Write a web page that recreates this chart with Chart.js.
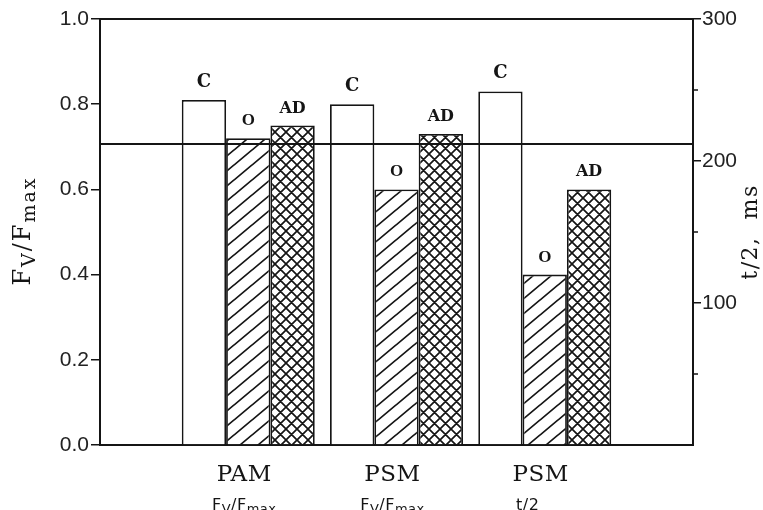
<!DOCTYPE html>
<html>
<head>
<meta charset="utf-8">
<script src="https://cdn.jsdelivr.net/npm/chart.js@4/dist/chart.umd.min.js"></script>
<style>
  html, body { margin: 0; padding: 0; background: #fff; }
  #wrap { width: 763px; height: 510px; }
</style>
</head>
<body>
<div id="wrap"><canvas id="c" width="763" height="510"></canvas></div>
<script>
// Categories (blank slots at both ends keep the groups off the frame)
const categories = ['', 'PAM', 'PSM', 'PSM', ''];
// Second line under each group: [text, isSubscript] pieces
const categorySubLabels = [
  null,
  [['F', 0], ['V', 1], ['/F', 0], ['max', 1]],
  [['F', 0], ['V', 1], ['/F', 0], ['max', 1]],
  [['t/2', 0]],
  null
];

// Series values (Fv/Fmax scale)
const controlC = [null, 0.81, 0.80, 0.83, null];
const treatedO = [null, 0.72, 0.60, 0.40, null];
const treatedAD = [null, 0.75, 0.73, 0.60, null];
const seriesNames = ['C', 'O', 'AD'];

// Reference level on the t/2 axis (ms)
const refLevelMs = [212, null, null, null, 212];

// Tick values
const leftTicks = [0, 0.2, 0.4, 0.6, 0.8, 1.0];
const rightMajorTicks = [100, 200, 300];
const rightMinorTicks = [50, 150, 250];

const INK = '#151515';

function makePattern(w, h, draw) {
  const c = document.createElement('canvas');
  c.width = w; c.height = h;
  const g = c.getContext('2d');
  g.fillStyle = '#fff';
  g.fillRect(0, 0, w, h);
  g.strokeStyle = INK;
  g.lineWidth = 1.7;
  draw(g, w, h);
  return g.createPattern(c, 'repeat');
}

// single diagonal hatch
const hatchDiag = makePattern(18, 15, (g, w, h) => {
  g.beginPath();
  g.moveTo(-w, 2 * h); g.lineTo(2 * w, -h);
  g.moveTo(-2 * w, 2 * h); g.lineTo(w, -h);
  g.moveTo(0, 2 * h); g.lineTo(3 * w, -h);
  g.stroke();
});

// cross hatch
const hatchCross = makePattern(11, 11, (g, w, h) => {
  g.beginPath();
  for (let k = -1; k <= 1; k++) {
    g.moveTo(k * w, h); g.lineTo(k * w + w, 0);
    g.moveTo(k * w, 0); g.lineTo(k * w + w, h);
  }
  g.stroke();
});

function drawRich(ctx, pieces, x, y, mainFont, subFont, subDy, spacing) {
  ctx.letterSpacing = spacing + 'px';
  let total = 0;
  pieces.forEach(p => {
    ctx.font = p[1] ? subFont : mainFont;
    total += ctx.measureText(p[0]).width;
  });
  let cx = x - total / 2;
  ctx.textAlign = 'left';
  ctx.textBaseline = 'alphabetic';
  pieces.forEach(p => {
    ctx.font = p[1] ? subFont : mainFont;
    ctx.fillText(p[0], cx, y + (p[1] ? subDy : 0));
    cx += ctx.measureText(p[0]).width;
  });
  ctx.letterSpacing = '0px';
}

const decorations = {
  id: 'decorations',
  afterDraw(chart) {
    const ctx = chart.ctx;
    const area = chart.chartArea;
    const x = chart.scales.x;
    const y2 = chart.scales.y2;
    ctx.save();
    ctx.fillStyle = INK;
    ctx.strokeStyle = INK;

    // top edge of the frame
    ctx.lineWidth = 2;
    ctx.beginPath();
    ctx.moveTo(area.left - 1, area.top);
    ctx.lineTo(area.right + 1, area.top);
    ctx.stroke();

    // minor ticks on the t/2 axis
    ctx.lineWidth = 1.5;
    rightMinorTicks.forEach(v => {
      const py = y2.getPixelForValue(v);
      ctx.beginPath();
      ctx.moveTo(area.right, py);
      ctx.lineTo(area.right + 5, py);
      ctx.stroke();
    });

    // letters over the bars
    chart.data.datasets.forEach((ds, i) => {
      if (ds.type === 'line') return;
      const meta = chart.getDatasetMeta(i);
      meta.data.forEach((bar, j) => {
        if (ds.data[j] == null) return;
        ctx.font = ds.labelFont;
        ctx.textAlign = 'center';
        ctx.textBaseline = 'alphabetic';
        ctx.fillText(ds.label, bar.x, bar.y - 13);
      });
    });

    // group labels under the axis
    categories.forEach((name, i) => {
      if (!name) return;
      const px = x.getPixelForValue(i) - 4;
      ctx.font = '23px "DejaVu Serif"';
      ctx.letterSpacing = '0.5px';
      ctx.textAlign = 'center';
      ctx.textBaseline = 'alphabetic';
      ctx.fillText(name, px, 481);
      ctx.letterSpacing = '0px';
      const sub = categorySubLabels[i];
      if (sub) {
        const shift = sub.length === 1 ? -13 : 0;
        drawRich(ctx, sub, px + shift, 510, '16px "DejaVu Sans"', '13px "DejaVu Sans"', 3, 0.5);
      }
    });

    // left axis title
    ctx.save();
    ctx.translate(30, 231);
    ctx.rotate(-Math.PI / 2);
    drawRich(ctx, [['F', 0], ['V', 1], ['/F', 0], ['max', 1]], 0, 0,
      '24px "DejaVu Serif"', '19px "DejaVu Serif"', 5, 2);
    ctx.restore();

    // right axis title
    ctx.save();
    ctx.translate(757, 232);
    ctx.rotate(-Math.PI / 2);
    drawRich(ctx, [['t/2,  ms', 0]], 0, 0, '22px "DejaVu Serif"', '22px "DejaVu Serif"', 0, 1.5);
    ctx.restore();

    ctx.restore();
  }
};

const barCommon = {
  type: 'bar',
  borderColor: INK,
  borderWidth: 1.8,
  yAxisID: 'y',
  order: 1,
  categoryPercentage: 0.897,
  barPercentage: 1.0
};

new Chart(document.getElementById('c'), {
  type: 'bar',
  data: {
    labels: categories,
    datasets: [
      Object.assign({}, barCommon, { label: seriesNames[0], data: controlC, backgroundColor: '#ffffff', labelFont: 'bold 18px "DejaVu Serif"' }),
      Object.assign({}, barCommon, { label: seriesNames[1], data: treatedO, backgroundColor: hatchDiag, labelFont: 'bold 17px "Liberation Serif"' }),
      Object.assign({}, barCommon, { label: seriesNames[2], data: treatedAD, backgroundColor: hatchCross, labelFont: 'bold 16px "DejaVu Serif"' }),
      {
        type: 'line',
        label: 'ref',
        data: refLevelMs,
        yAxisID: 'y2',
        spanGaps: true,
        borderColor: INK,
        borderWidth: 2,
        pointRadius: 0,
        order: 0
      }
    ]
  },
  options: {
    responsive: false,
    devicePixelRatio: 1,
    animation: false,
    layout: { padding: { top: 19, left: 0, right: 0, bottom: 0 } },
    plugins: { legend: { display: false }, tooltip: { enabled: false } },
    scales: {
      x: {
        type: 'category',
        offset: false,
        grid: { display: false },
        border: { display: true, color: INK, width: 2 },
        ticks: { display: false },
        afterFit(s) { s.height = 65; }
      },
      y: {
        position: 'left',
        min: 0,
        max: 1,
        afterBuildTicks(s) { s.ticks = leftTicks.map(v => ({ value: v })); },
        ticks: {
          callback: v => Number(v).toFixed(1),
          font: { family: 'Liberation Sans', size: 21 },
          color: '#222',
          padding: 2
        },
        grid: { display: true, drawOnChartArea: false, drawTicks: true, tickLength: 9, color: INK, lineWidth: 1.5 },
        border: { display: true, color: INK, width: 2 },
        afterFit(s) { s.width = 100; }
      },
      y2: {
        position: 'right',
        min: 0,
        max: 300,
        afterBuildTicks(s) { s.ticks = rightMajorTicks.map(v => ({ value: v })); },
        ticks: {
          font: { family: 'Liberation Sans', size: 21 },
          color: '#222',
          padding: 1
        },
        grid: { display: true, drawOnChartArea: false, drawTicks: true, tickLength: 8, color: INK, lineWidth: 1.5 },
        border: { display: true, color: INK, width: 2 },
        afterFit(s) { s.width = 70; }
      }
    }
  },
  plugins: [decorations]
});
</script>
</body>
</html>
